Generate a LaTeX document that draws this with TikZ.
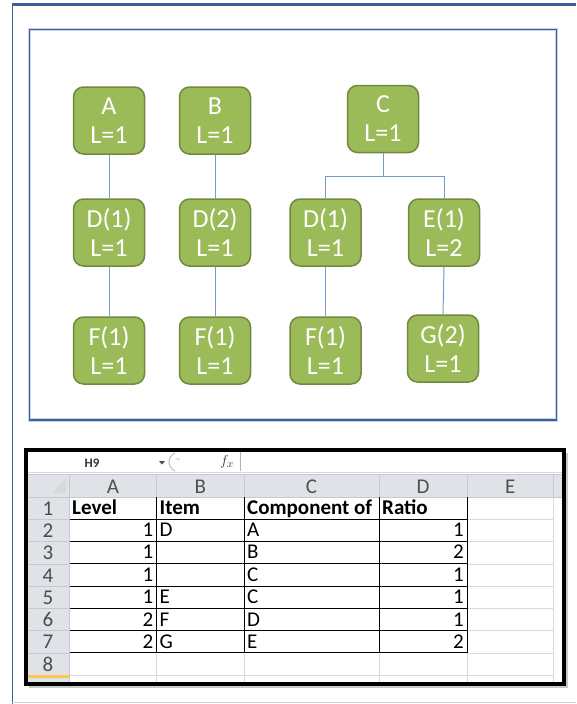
\documentclass[tikz,border=0pt]{standalone}
\usepackage{fontspec}
\setmainfont{Carlito}
\usetikzlibrary{calc}

\definecolor{NodeGreen}{RGB}{155,187,89}
\definecolor{NodeBorder}{RGB}{113,137,63}
\definecolor{LinkBlue}{RGB}{118,152,205}
\definecolor{FrameBlue}{RGB}{61,94,151}
\definecolor{FrameHalo}{RGB}{200,213,232}
\definecolor{HeadGrey}{RGB}{223,227,232}
\definecolor{HeadLine}{RGB}{196,201,210}
\definecolor{HeadText}{RGB}{80,80,80}
\definecolor{GridGrey}{RGB}{214,218,224}
\definecolor{SelOrange}{RGB}{249,200,80}

\newcommand{\Width}{71pt}
\newcommand{\Height}{67pt}
\newcommand{\RowH}{22.25}

\tikzset{GreenBox/.style={
    rounded corners=10pt,
    inner sep=0pt,
    minimum width=\Width,
    minimum height=\Height,
    draw=NodeBorder,
    line width=1.5pt,
    fill=NodeGreen,
    text=white,
    align=center,
    font=\fontsize{26}{29}\selectfont
    }
}
\tikzset{Link/.style={
    draw=LinkBlue,
    line width=1pt
    }
}
\tikzset{CellLeft/.style={
    inner sep=0pt,
    anchor=base west,
    font=\fontsize{21}{21}\selectfont
    }
}
\tikzset{CellRight/.style={
    inner sep=0pt,
    anchor=base east,
    font=\fontsize{21}{21}\selectfont
    }
}
\tikzset{HeadLabel/.style={
    inner sep=0pt,
    anchor=base,
    text=HeadText,
    font=\fontsize{21}{21}\selectfont
    }
}

\begin{document}
\begin{tikzpicture}[x=1pt, y=-1pt, node distance=106pt]
    \useasboundingbox (0,0) rectangle (576,704);

    % page frame
    \draw[FrameBlue, line width=2.5pt] (12,4.5) -- (576,4.5);
    \draw[FrameBlue, line width=1.5pt] (12.5,4) -- (12.5,704);
    \draw[FrameHalo, line width=1pt] (12,702.5) -- (576,702.5);

    % tree frame
    \draw[FrameHalo, line width=3.5pt] (29.5,29.5) rectangle (556.5,420);
    \draw[FrameBlue, line width=1.6pt] (29.5,29.5) rectangle (556.5,420);

    \node (A) [GreenBox] at (109,120.5) {A\\L=1};
    \node (B) [GreenBox, right of=A] {B\\L=1};
    \node (C) [GreenBox, right of=B, xshift=62pt, yshift=1.5pt] {C\\L=1};

    \begin{scope}[node distance=112pt]
    \node (DA) [GreenBox, below of=A] {D(1)\\L=1};
    \node (DB) [GreenBox, below of=B] {D(2)\\L=1};
    \node (DC) [GreenBox, below of=C, xshift=-57.5pt, yshift=-1.5pt] {D(1)\\L=1};
    \node (EC) [GreenBox, below of=C, xshift=61pt, yshift=-1.5pt] {E(1)\\L=2};

    \node (FA) [GreenBox, below of=DA, yshift=-6pt] {F(1)\\L=1};
    \node (FB) [GreenBox, below of=DB, yshift=-6pt] {F(1)\\L=1};
    \node (FC) [GreenBox, below of=DC, yshift=-6pt] {F(1)\\L=1};
    \node (GC) [GreenBox, below of=EC, xshift=-1pt, yshift=-4pt] {G(2)\\L=1};
    \end{scope}

        \draw [Link] (A) -- (DA);
        \draw [Link] (B) -- (DB);
        \draw [Link] (DA) -- (FA);
        \draw [Link] (DB) -- (FB);
        \draw [Link] (DC) -- (FC);
        \draw [Link] (EC.south) -- (GC.north);
    \coordinate (c1) at ([yshift=-23pt]C.south);
        \draw [Link] (C.south) -- (c1);
        \draw [Link] (c1) -| (DC.north);
        \draw [Link] (c1) -| (EC.north);

    % spreadsheet
    \fill[black!30, opacity=0.7] (29,453) rectangle (568,688);
    \fill[white] (26,450) rectangle (564,684);
    \fill[HeadGrey] (26,474) rectangle (564,497);
    \fill[HeadGrey] (26,497) rectangle (69.5,684);
    \draw[GridGrey] (26,472) -- (564,472);
    \draw[HeadLine] (26,474.5) -- (564,474.5);
    \draw[HeadLine] (26,497) -- (564,497);
    \draw[HeadLine] (69.5,474.5) -- (69.5,684);
    \foreach \x in {156.5,244,379,467,553.5}
        \draw[HeadLine] (\x,474.5) -- (\x,497);
    \foreach \k in {1,...,8}
        \draw[HeadLine] (26,497+\k*\RowH) -- (69.5,497+\k*\RowH);

    % light grid
    \foreach \k in {1,...,8}
        \draw[GridGrey] (467,497+\k*\RowH) -- (553.5,497+\k*\RowH);
    \draw[GridGrey] (69.5,675) -- (467,675);
    \foreach \x in {156.5,244,379,467}
        \draw[GridGrey] (\x,652.75) -- (\x,684);
    \draw[GridGrey] (553.5,497) -- (553.5,684);

    % cell borders
    \foreach \k in {1,...,7}
        \draw[black, line width=0.9pt] (69.5,497+\k*\RowH) -- (467,497+\k*\RowH);
    \foreach \x in {156.5,244,379,467}
        \draw[black, line width=0.9pt] (\x,497) -- (\x,652.75);

    % name box and formula bar
    \node (name) [inner sep=0pt, anchor=base, font=\bfseries\fontsize{13}{13}\selectfont, text=black!80] at (92,467) {H9};
    \fill[black!70] (159,461) -- (165,461) -- (162,464.5) -- cycle;
    \draw[black!25, line width=1pt] (175,453) .. controls (167,457) and (167,467) .. (175,471);
    \node (eq) [inner sep=0pt, text=black!25, font=\fontsize{9}{9}\selectfont] at (178,461) {=};
    \node (fx) [inner sep=0pt, text=black!80, font=\fontsize{15}{15}\selectfont] at (227,462) {$f_x$};
    \draw[black!30] (240,452) -- (240,471);

    \fill[black!15] (66,478) -- (66,493) -- (52,493) -- cycle;

    \node (colA) [HeadLabel] at (113,493) {A};
    \node (colB) [HeadLabel] at (200.25,493) {B};
    \node (colC) [HeadLabel] at (311.5,493) {C};
    \node (colD) [HeadLabel] at (423,493) {D};
    \node (colE) [HeadLabel] at (510.25,493) {E};
    \foreach \k in {1,...,8}
        \node (row\k) [HeadLabel, text=black!70] at (48,497+\k*\RowH-4) {\k};

    \fill[SelOrange] (28,675) rectangle (69.5,678);

    % cell texts
    \node (h1) [CellLeft, font=\bfseries\fontsize{21}{21}\selectfont] at (72,514) {Level};
    \node (h2) [CellLeft, font=\bfseries\fontsize{21}{21}\selectfont] at (159.5,514) {Item};
    \node (h3) [CellLeft, font=\bfseries\fontsize{21}{21}\selectfont] at (247,514) {Component of};
    \node (h4) [CellLeft, font=\bfseries\fontsize{21}{21}\selectfont] at (382,514) {Ratio};

    \node (a2) [CellRight] at (153.5,536) {1};
    \node (a3) [CellRight] at (153.5,558.5) {1};
    \node (a4) [CellRight] at (153.5,581) {1};
    \node (a5) [CellRight] at (153.5,603.5) {1};
    \node (a6) [CellRight] at (153.5,626) {2};
    \node (a7) [CellRight] at (153.5,648) {2};

    \node (b2) [CellLeft] at (159.5,536) {D};
    \node (b5) [CellLeft] at (159.5,603.5) {E};
    \node (b6) [CellLeft] at (159.5,626) {F};
    \node (b7) [CellLeft] at (159.5,648) {G};

    \node (c2) [CellLeft] at (247,536) {A};
    \node (c3) [CellLeft] at (247,558.5) {B};
    \node (c4) [CellLeft] at (247,581) {C};
    \node (c5) [CellLeft] at (247,603.5) {C};
    \node (c6) [CellLeft] at (247,626) {D};
    \node (c7) [CellLeft] at (247,648) {E};

    \node (d2) [CellRight] at (464,536) {1};
    \node (d3) [CellRight] at (464,558.5) {2};
    \node (d4) [CellRight] at (464,581) {1};
    \node (d5) [CellRight] at (464,603.5) {1};
    \node (d6) [CellRight] at (464,626) {1};
    \node (d7) [CellRight] at (464,648) {2};

    \draw[black, line width=4pt] (26,450) rectangle (564,684);

\end{tikzpicture}
\end{document}
